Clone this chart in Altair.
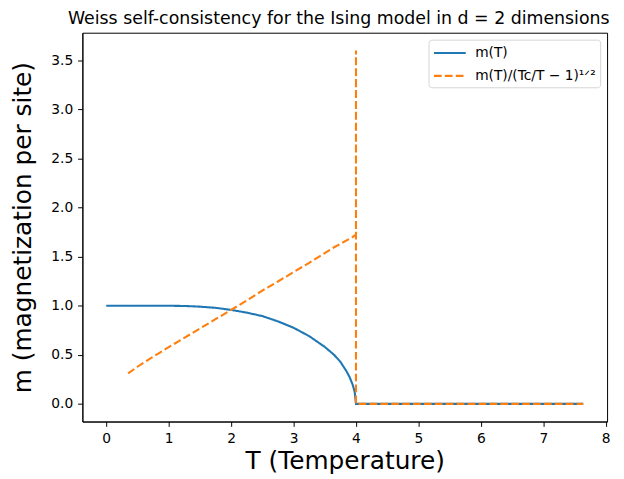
import altair as alt
import pandas as pd

# Blue series: m(T)
T_m = [0.0, 0.25, 0.5, 0.75, 1.0, 1.25, 1.5, 1.75, 2.0, 2.25, 2.5, 2.75, 3.0, 3.25,
       3.5, 3.65, 3.75, 3.85, 3.9, 3.95, 3.98, 4.0, 4.5, 5.0, 5.5, 6.0, 6.5, 7.0, 7.64]
m_vals = [1.0, 1.0, 1.0, 1.0, 0.999, 0.997, 0.990, 0.978, 0.957, 0.929, 0.894, 0.840,
          0.775, 0.690, 0.580, 0.499, 0.429, 0.330, 0.270, 0.190, 0.120, 0.0,
          0.0, 0.0, 0.0, 0.0, 0.0, 0.0, 0.0]

# Orange series: m(T)/(Tc/T - 1)^(1/2)
T_r = [0.35, 0.5, 0.75, 1.0, 1.25, 1.5, 1.75, 2.0, 2.25, 2.5, 2.75, 3.0, 3.25, 3.5,
       3.65, 3.75, 3.85, 3.9, 3.95, 3.98, 4.0, 4.0, 4.0, 4.5, 5.0, 5.5, 6.0, 6.5, 7.0, 7.64]
r_vals = [0.31, 0.378, 0.480, 0.577, 0.672, 0.767, 0.862, 0.957, 1.053, 1.154, 1.246,
          1.342, 1.436, 1.535, 1.595, 1.630, 1.665, 1.683, 1.700, 1.715, 1.72, 3.6, 0.0,
          0.0, 0.0, 0.0, 0.0, 0.0, 0.0, 0.0]

labels = ["m(T)", "m(T)/(Tc/T − 1)¹ᐟ²"]
colors = ["#1f77b4", "#ff7f0e"]

df_m = pd.DataFrame({"T": T_m, "v": m_vals, "s": labels[0], "i": range(len(T_m))})
df_r = pd.DataFrame({"T": T_r, "v": r_vals, "s": labels[1], "i": range(len(T_r))})

x_scale = alt.Scale(domain=[-0.382, 8.022], nice=False, zero=False)
y_scale = alt.Scale(domain=[-0.18, 3.78], nice=False, zero=False)

color = alt.Color("s:N", scale=alt.Scale(domain=labels, range=colors),
                  legend=alt.Legend(title=None, orient="top-right", offset=7,
                                    symbolType="M-1,0H3", symbolSize=256,
                                    symbolStrokeWidth=2.1, labelFontSize=13.9,
                                    labelFont="DejaVu Sans", labelColor="black",
                                    fillColor="white", strokeColor="#d6d6d6",
                                    cornerRadius=3, padding=4, rowPadding=6,
                                    labelOffset=24, labelLimit=300))
dash = alt.StrokeDash("s:N", scale=alt.Scale(domain=labels, range=[[1, 0], [7.7, 3.3]]),
                      legend=alt.Legend(title=None))

x = alt.X("T:Q", scale=x_scale,
          axis=alt.Axis(values=list(range(0, 9)), format="d", title="T (Temperature)",
                        titlePadding=4))
y = alt.Y("v:Q", scale=y_scale,
          axis=alt.Axis(values=[0, 0.5, 1, 1.5, 2, 2.5, 3, 3.5], format=".1f",
                        title="m (magnetization per site)", titlePadding=16))

line_m = alt.Chart(df_m).mark_line(strokeWidth=2.1).encode(
    x=x, y=y, color=color, strokeDash=dash, order=alt.Order("i:Q"))
line_r = alt.Chart(df_r).mark_line(strokeWidth=2.1).encode(
    x=x, y=y, color=color, strokeDash=dash, order=alt.Order("i:Q"))

chart = alt.layer(line_m, line_r).properties(
    width=529, height=392,
    title=alt.TitleParams("Weiss self-consistency for the Ising model in d = 2 dimensions",
                          font="DejaVu Sans", fontSize=17.5, fontWeight="normal",
                          color="black", offset=5, anchor="middle", dx=-6),
    padding={"left": 2, "right": 5, "top": 0, "bottom": 0},
).configure_axis(
    labelFont="DejaVu Sans", labelFontSize=13.9, labelColor="black",
    tickColor="black", tickSize=4.86, tickWidth=1, labelPadding=4.86,
    domainColor="black", domainWidth=1, grid=False,
    titleFont="DejaVu Sans", titleFontSize=25, titleFontWeight="normal", titleColor="black",
).configure_view(stroke="black", strokeWidth=1)

chart.save("out.html", embed_options={"renderer": "svg", "actions": False})
